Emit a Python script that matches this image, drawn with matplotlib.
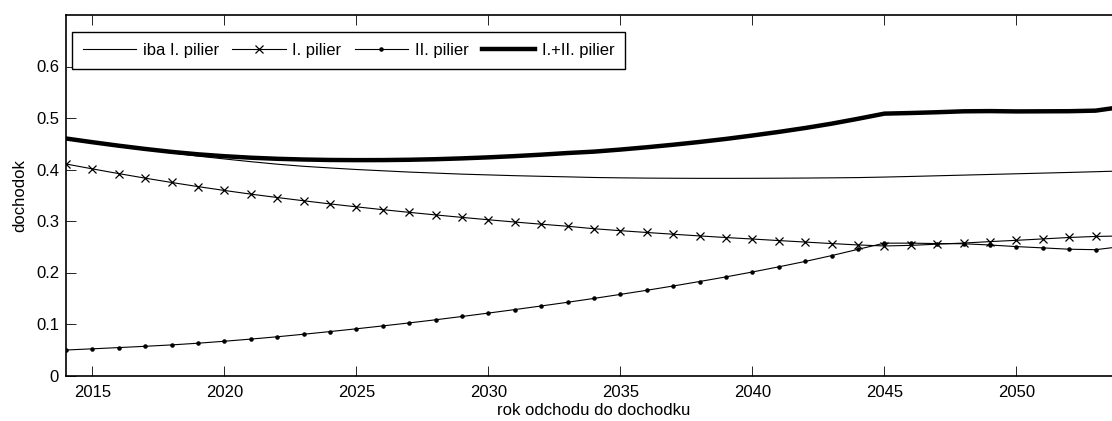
import matplotlib
matplotlib.use("Agg")
import matplotlib.pyplot as plt

plt.rcParams['font.family'] = ['Liberation Sans', 'DejaVu Sans']

years = list(range(2014, 2055))

# iba I. pilier
only_first = [0.4600, 0.4530, 0.4458, 0.4388, 0.4322, 0.4260, 0.4205, 0.4152,
              0.4103, 0.4062, 0.4030, 0.4000, 0.3975, 0.3950, 0.3930, 0.3910,
              0.3895, 0.3880, 0.3868, 0.3857, 0.3845, 0.3838, 0.3833, 0.3830,
              0.3828, 0.3828, 0.3829, 0.3831, 0.3834, 0.3838, 0.3843, 0.3853,
              0.3865, 0.3878, 0.3891, 0.3904, 0.3917, 0.3930, 0.3943, 0.3957,
              0.3972]

# I. pilier
first_pillar = [0.4107, 0.4012, 0.3920, 0.3832, 0.3748, 0.3668, 0.3593, 0.3522,
                0.3456, 0.3393, 0.3332, 0.3275, 0.3220, 0.3168, 0.3118, 0.3070,
                0.3024, 0.2980, 0.2938, 0.2898, 0.2850, 0.2812, 0.2777, 0.2743,
                0.2710, 0.2679, 0.2650, 0.2620, 0.2591, 0.2562, 0.2535, 0.2515,
                0.2527, 0.2550, 0.2572, 0.2600, 0.2625, 0.2652, 0.2680, 0.2700,
                0.2710]

# II. pilier
second_pillar = [0.0495, 0.0518, 0.0542, 0.0567, 0.0594, 0.0627, 0.0665, 0.0707,
                 0.0752, 0.0801, 0.0853, 0.0907, 0.0963, 0.1021, 0.1082, 0.1146,
                 0.1212, 0.1280, 0.1350, 0.1422, 0.1497, 0.1575, 0.1655, 0.1738,
                 0.1825, 0.1915, 0.2010, 0.2110, 0.2215, 0.2328, 0.2450, 0.2570,
                 0.2570, 0.2562, 0.2558, 0.2534, 0.2503, 0.2478, 0.2452, 0.2443,
                 0.2505]

# I.+II. pilier
both_pillars = [a + b for a, b in zip(first_pillar, second_pillar)]

x_ticks = [2015, 2020, 2025, 2030, 2035, 2040, 2045, 2050]
y_ticks = [0, 0.1, 0.2, 0.3, 0.4, 0.5, 0.6]
y_ticklabels = ['0', '0.1', '0.2', '0.3', '0.4', '0.5', '0.6']

fig = plt.figure(figsize=(11.12, 4.21), dpi=100)
ax = fig.add_axes([66 / 1112, 1 - 375.5 / 421, 1056 / 1112, 360.5 / 421])

ax.plot(years, only_first, color='black', lw=0.8, label='iba I. pilier')
ax.plot(years, first_pillar, color='black', lw=0.8, marker='x', ms=6,
        mew=0.9, label='I. pilier')
ax.plot(years, second_pillar, color='black', lw=0.8, marker='.', ms=4.5,
        label='II. pilier')
ax.plot(years, both_pillars, color='black', lw=3.2, label='I.+II. pilier')

ax.set_xlim(2014, 2054)
ax.set_ylim(0, 0.7)
ax.set_xticks(x_ticks)
ax.set_yticks(y_ticks)
ax.set_yticklabels(y_ticklabels)
ax.tick_params(direction='in', length=7.5, width=0.6, labelsize=12,
               top=True, right=True)
ax.tick_params(axis='x', pad=7)
ax.tick_params(axis='y', pad=5)
for s in ax.spines.values():
    s.set_linewidth(1.2)

ax.set_xlabel('rok odchodu do dochodku', fontsize=12, labelpad=2)
ax.set_ylabel('dochodok', fontsize=12, labelpad=6)

leg = ax.legend(loc='upper left', ncol=4, fontsize=12, frameon=True,
                fancybox=False, edgecolor='black', framealpha=1,
                handlelength=3.2, handletextpad=0.4, columnspacing=0.8,
                borderpad=0.65, borderaxespad=0,
                bbox_to_anchor=(0.0057, 0.953))
leg.get_frame().set_linewidth(1.0)

fig.savefig('out.png', dpi=100)
